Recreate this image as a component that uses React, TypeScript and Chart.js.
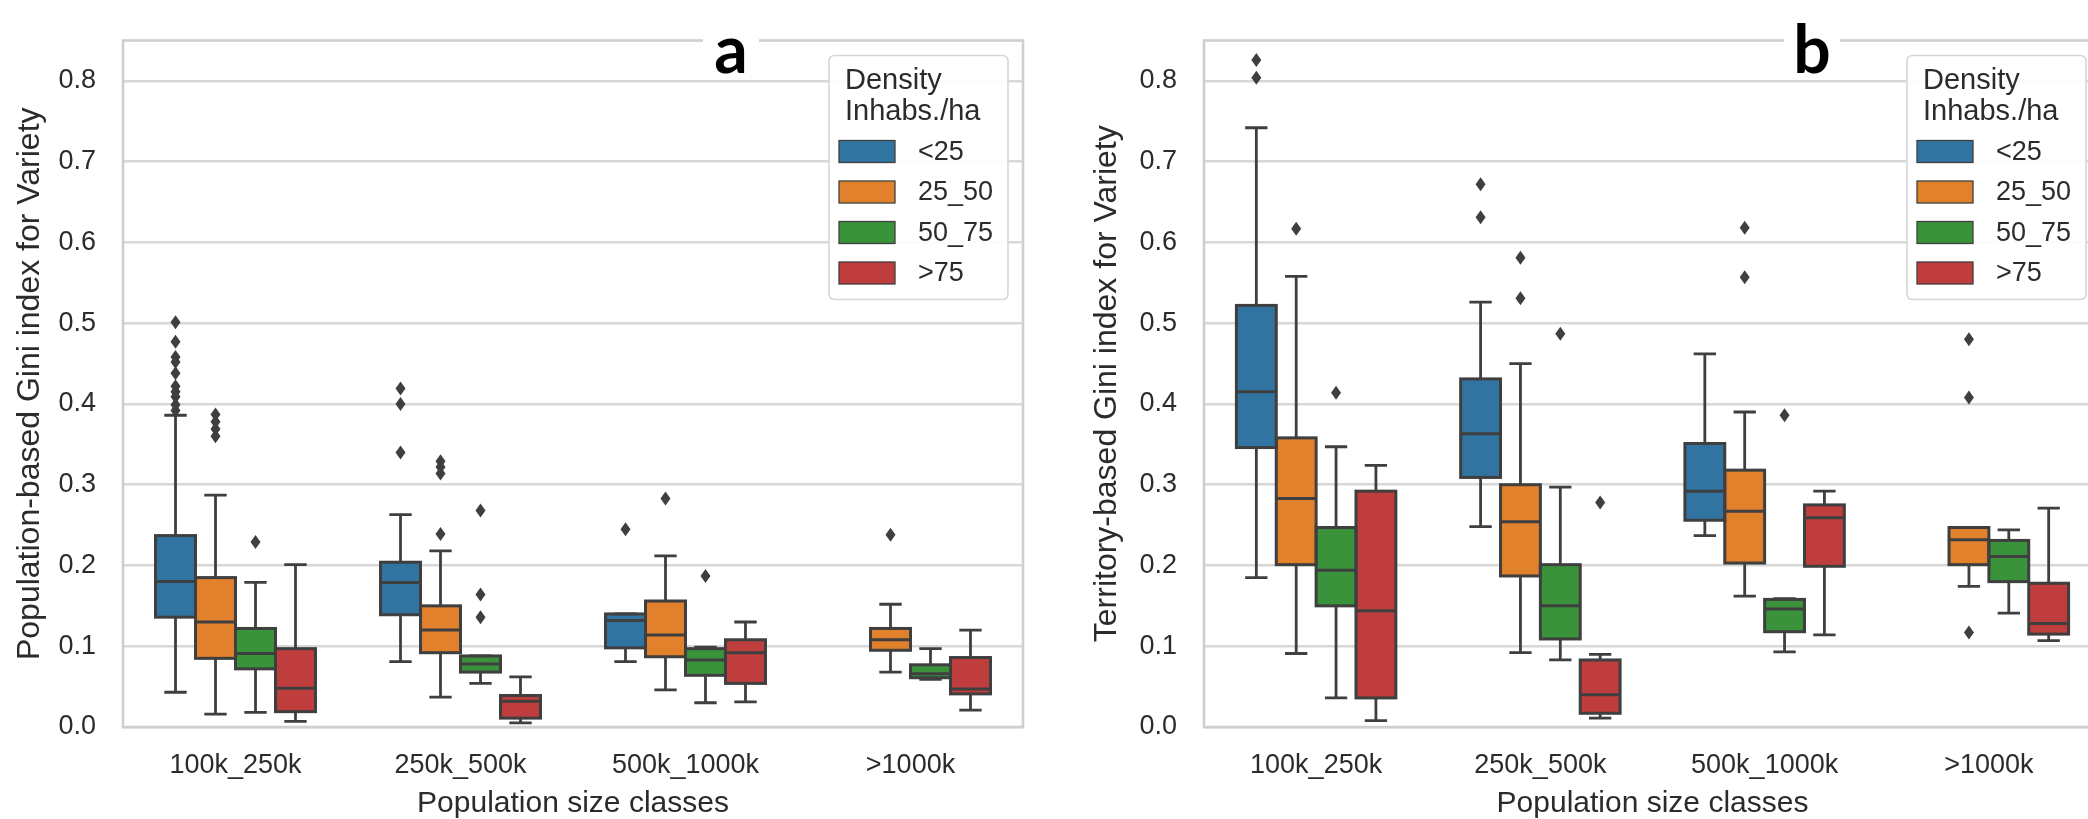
import React, { useEffect, useRef } from 'react';
import { Chart, registerables } from 'chart.js';

Chart.register(...registerables);

// ---------- data ----------
const categories = ['100k_250k', '250k_500k', '500k_1000k', '>1000k'];
const densityClasses = ['<25', '25_50', '50_75', '>75'];
const yTickValues = [0, 0.1, 0.2, 0.3, 0.4, 0.5, 0.6, 0.7, 0.8];

// [lower whisker, Q1, median, Q3, upper whisker] per population class
// Panel a: population-based Gini index
const popLt25 = [[0.043, 0.136, 0.180, 0.237, 0.386], [0.081, 0.139, 0.179, 0.204, 0.263], [0.081, 0.098, 0.132, 0.140, 0.140], null];
const pop25to50 = [[0.016, 0.085, 0.130, 0.185, 0.287], [0.037, 0.092, 0.120, 0.150, 0.218], [0.046, 0.087, 0.114, 0.156, 0.212], [0.068, 0.095, 0.108, 0.122, 0.152]];
const pop50to75 = [[0.018, 0.072, 0.091, 0.122, 0.179], [0.054, 0.068, 0.078, 0.088, 0.088], [0.030, 0.064, 0.083, 0.097, 0.099], [0.059, 0.061, 0.066, 0.077, 0.097]];
const popGt75 = [[0.007, 0.019, 0.048, 0.097, 0.201], [0.005, 0.011, 0.032, 0.039, 0.062], [0.031, 0.054, 0.092, 0.108, 0.130], [0.021, 0.041, 0.047, 0.086, 0.120]];

const popLt25Out = [[0.501, 0.477, 0.458, 0.452, 0.438, 0.422, 0.415, 0.409, 0.399, 0.392], [0.419, 0.400, 0.340], [0.245], []];
const pop25to50Out = [[0.387, 0.378, 0.369, 0.360], [0.329, 0.322, 0.314, 0.239], [0.283], [0.238]];
const pop50to75Out = [[0.229], [0.268, 0.164, 0.136], [0.187], []];
const popGt75Out = [[], [], [], []];

// Panel b: territory-based Gini index
const terLt25 = [[0.185, 0.346, 0.415, 0.522, 0.742], [0.248, 0.309, 0.363, 0.431, 0.526], [0.237, 0.256, 0.292, 0.351, 0.462], null];
const ter25to50 = [[0.091, 0.201, 0.283, 0.358, 0.558], [0.092, 0.187, 0.254, 0.300, 0.450], [0.162, 0.203, 0.267, 0.318, 0.390], [0.174, 0.201, 0.232, 0.247, 0.247]];
const ter50to75 = [[0.036, 0.150, 0.194, 0.247, 0.347], [0.083, 0.109, 0.150, 0.201, 0.297], [0.093, 0.118, 0.146, 0.158, 0.159], [0.141, 0.180, 0.211, 0.231, 0.244]];
const terGt75 = [[0.008, 0.036, 0.144, 0.292, 0.324], [0.011, 0.017, 0.040, 0.083, 0.090], [0.114, 0.199, 0.259, 0.275, 0.292], [0.107, 0.115, 0.128, 0.178, 0.271]];

const terLt25Out = [[0.826, 0.804], [0.672, 0.631], [], []];
const ter25to50Out = [[0.617], [0.581, 0.531], [0.618, 0.557], [0.480, 0.408, 0.117]];
const ter50to75Out = [[0.414], [0.487], [0.386], []];
const terGt75Out = [[], [0.278], [], []];

// ---------- styles ----------
const densityColors = ['#3274a1', '#e1812c', '#3a923a', '#c03d3e'];
const LINE = '#3f3f3f';
const GRID = '#d8d8d8';
const TEXT = '#2b2b2b';
const FONT = "'Liberation Sans', Arial, sans-serif";

function buildDatasets(stats: any[], outliers: any[]) {
  return stats.map((s: any, i: number) => ({
    label: densityClasses[i],
    data: s.map((v: any) => (v ? [v[1], v[3]] : null)),
    backgroundColor: densityColors[i],
    borderWidth: 0,
    borderSkipped: false,
    categoryPercentage: 0.711,
    barPercentage: 1.0,
    stats: s,
    outliers: outliers[i],
  }));
}

const boxPlugin = {
  id: 'boxExtras',
  afterDatasetsDraw(chart: any) {
    const ctx = chart.ctx;
    const ys = chart.scales.y;
    ctx.save();
    chart.data.datasets.forEach((ds: any, i: number) => {
      const meta = chart.getDatasetMeta(i);
      meta.data.forEach((el: any, j: number) => {
        const s = ds.stats[j];
        if (!s) return;
        const x = el.x;
        const w = el.width;
        const pLo = ys.getPixelForValue(s[0]);
        const pQ1 = ys.getPixelForValue(s[1]);
        const pMed = ys.getPixelForValue(s[2]);
        const pQ3 = ys.getPixelForValue(s[3]);
        const pHi = ys.getPixelForValue(s[4]);
        ctx.strokeStyle = LINE;
        ctx.lineWidth = 2.8;
        ctx.lineCap = 'butt';
        const cw = w * 0.28;
        ctx.beginPath();
        ctx.moveTo(x, pQ3); ctx.lineTo(x, pHi);
        ctx.moveTo(x, pQ1); ctx.lineTo(x, pLo);
        ctx.moveTo(x - cw, pHi); ctx.lineTo(x + cw, pHi);
        ctx.moveTo(x - cw, pLo); ctx.lineTo(x + cw, pLo);
        ctx.stroke();
        ctx.lineWidth = 3;
        ctx.strokeRect(x - w / 2, pQ3, w, pQ1 - pQ3);
        ctx.beginPath();
        ctx.moveTo(x - w / 2, pMed); ctx.lineTo(x + w / 2, pMed);
        ctx.stroke();
        ctx.fillStyle = LINE;
        (ds.outliers[j] || []).forEach((v: number) => {
          const py = ys.getPixelForValue(v);
          ctx.beginPath();
          ctx.moveTo(x, py - 7);
          ctx.lineTo(x + 5, py);
          ctx.lineTo(x, py + 7);
          ctx.lineTo(x - 5, py);
          ctx.closePath();
          ctx.fill();
        });
      });
    });
    ctx.restore();
  },
};

const decorPlugin = {
  id: 'decor',
  afterDraw(chart: any) {
    const ctx = chart.ctx;
    const a = chart.chartArea;
    const opts = chart.options.plugins.decor;
    ctx.save();
    // frame
    ctx.strokeStyle = '#cfcfcf';
    ctx.lineWidth = 2.6;
    ctx.strokeRect(a.left, a.top, a.right - a.left, a.bottom - a.top);

    // panel letter
    const lx = a.left + 608;
    ctx.fillStyle = '#ffffff';
    ctx.fillRect(lx - 28, 30, 56, 48);
    ctx.fillStyle = '#000000';
    ctx.font = "bold 66px Lato, 'Open Sans', sans-serif";
    ctx.textAlign = 'center';
    ctx.textBaseline = 'alphabetic';
    ctx.fillText(opts.letter, lx, 73);

    // legend
    const bw = 179, bh = 244;
    const bx = a.right - 15 - bw;
    const by = a.top + 15;
    const r = 6;
    ctx.beginPath();
    ctx.moveTo(bx + r, by);
    ctx.lineTo(bx + bw - r, by);
    ctx.quadraticCurveTo(bx + bw, by, bx + bw, by + r);
    ctx.lineTo(bx + bw, by + bh - r);
    ctx.quadraticCurveTo(bx + bw, by + bh, bx + bw - r, by + bh);
    ctx.lineTo(bx + r, by + bh);
    ctx.quadraticCurveTo(bx, by + bh, bx, by + bh - r);
    ctx.lineTo(bx, by + r);
    ctx.quadraticCurveTo(bx, by, bx + r, by);
    ctx.closePath();
    ctx.fillStyle = 'rgba(255,255,255,0.92)';
    ctx.fill();
    ctx.strokeStyle = '#d6d6d6';
    ctx.lineWidth = 1.6;
    ctx.stroke();

    ctx.fillStyle = TEXT;
    ctx.textAlign = 'left';
    ctx.textBaseline = 'middle';
    ctx.font = `29px ${FONT}`;
    ctx.fillText('Density', bx + 16, by + 25);
    ctx.fillText('Inhabs./ha', bx + 16, by + 56);
    ctx.font = `27px ${FONT}`;
    chart.data.datasets.forEach((ds: any, i: number) => {
      const cy = by + 96 + i * 40.5;
      ctx.fillStyle = ds.backgroundColor;
      ctx.fillRect(bx + 10, cy - 11, 56, 22);
      ctx.strokeStyle = LINE;
      ctx.lineWidth = 1.3;
      ctx.strokeRect(bx + 10, cy - 11, 56, 22);
      ctx.fillStyle = TEXT;
      ctx.fillText(ds.label, bx + 89, cy + 1);
    });
    ctx.restore();
  },
};

function makeConfig(datasets: any[], yTitle: string, letter: string, yWidth: number, titlePad: number, rightPad: number) {
  return {
    type: 'bar',
    data: { labels: categories, datasets },
    plugins: [boxPlugin, decorPlugin],
    options: {
      responsive: false,
      maintainAspectRatio: false,
      animation: false,
      devicePixelRatio: 1,
      layout: { padding: { left: 0, top: 13, right: rightPad, bottom: 0 } },
      plugins: {
        legend: { display: false },
        tooltip: { enabled: false },
        decor: { letter },
      },
      scales: {
        x: {
          grid: { display: false, drawTicks: false },
          border: { display: false },
          ticks: { padding: 25, color: TEXT, font: { size: 27, family: FONT, lineHeight: 1 } },
          title: {
            display: true,
            text: 'Population size classes',
            color: TEXT,
            font: { size: 30, family: FONT, lineHeight: 1 },
            padding: { top: 0, bottom: 0 },
          },
          afterFit: (s: any) => { s.height = 92; },
        },
        y: {
          min: 0,
          max: 0.85,
          afterBuildTicks: (s: any) => { s.ticks = yTickValues.map((v) => ({ value: v })); },
          afterFit: (s: any) => { s.width = yWidth; },
          grid: { color: GRID, lineWidth: 2.6, drawTicks: false },
          border: { display: false },
          ticks: {
            padding: 27,
            color: TEXT,
            font: { size: 27, family: FONT, lineHeight: 1 },
            callback: (v: any) => Number(v).toFixed(1),
          },
          title: {
            display: true,
            text: yTitle,
            color: TEXT,
            font: { size: 32, family: FONT, lineHeight: 1 },
            padding: { top: titlePad, bottom: 0 },
          },
        },
      },
    },
  };
}

export default function App() {
  const refA = useRef<HTMLCanvasElement>(null);
  const refB = useRef<HTMLCanvasElement>(null);

  useEffect(() => {
    document.body.style.margin = '0';
    const dsA = buildDatasets([popLt25, pop25to50, pop50to75, popGt75], [popLt25Out, pop25to50Out, pop50to75Out, popGt75Out]);
    const dsB = buildDatasets([terLt25, ter25to50, ter50to75, terGt75], [terLt25Out, ter25to50Out, ter50to75Out, terGt75Out]);
    const cA = new Chart(refA.current as any, makeConfig(dsA, 'Population-based Gini index for Variety', 'a', 123, 14, 17) as any);
    const cB = new Chart(refB.current as any, makeConfig(dsB, 'Territory-based Gini index for Variety', 'b', 164, 51, 19) as any);
    return () => { cA.destroy(); cB.destroy(); };
  }, []);

  return (
    <div style={{ position: 'fixed', left: 0, top: 0, width: 2088, height: 819, overflow: 'hidden', background: '#ffffff' }}>
      <canvas ref={refA} width={1040} height={819} style={{ position: 'absolute', left: 0, top: 0, width: 1040, height: 819 }} />
      <canvas ref={refB} width={1080} height={819} style={{ position: 'absolute', left: 1040, top: 0, width: 1080, height: 819 }} />
    </div>
  );
}
